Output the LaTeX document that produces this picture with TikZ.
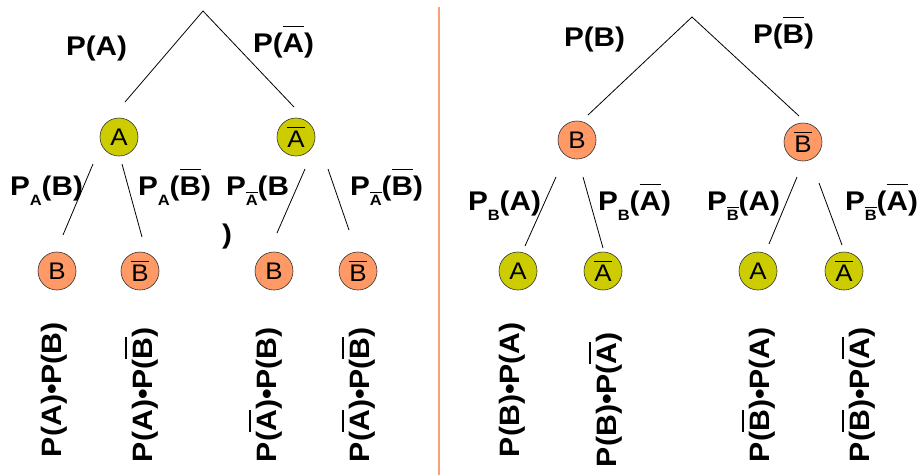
\documentclass[tikz,border=0pt]{standalone}
\usepackage{fontspec}
\setmainfont{Liberation Sans}
\newfontfamily\labfontfam[FakeStretch=1.1]{Liberation Sans Bold}
\newfontfamily\prodfontfam[FakeStretch=1.08]{Liberation Sans Bold}
\newfontfamily\nodefontfam[FakeStretch=1.08]{Liberation Sans}
\newcommand\labsize{\labfontfam\fontsize{27}{30}\selectfont}
\newcommand\prodsize{\prodfontfam\fontsize{28}{32}\selectfont}
\newcommand\nodesize{\nodefontfam\fontsize{24}{26}\selectfont}
\newcommand\ovl[2][0.22em]{\leavevmode\setbox0=\hbox{#2}\rlap{\raisebox{\dimexpr\ht0+#1\relax}{\rule{\wd0}{0.05em}}}\box0}
\newcommand\sbs[1]{\raisebox{-10pt}{\fontsize{15}{16}\selectfont #1}}
\definecolor{yel}{RGB}{204,204,0}
\definecolor{sal}{RGB}{255,153,102}
\definecolor{divcol}{RGB}{247,160,115}
\begin{document}
\begin{tikzpicture}[x=1pt,y=-1pt,
  every node/.style={inner sep=0pt,outer sep=0pt},
  ynode/.style={circle,draw=black!80,line width=0.6pt,fill=yel,minimum size=38pt,font=\nodesize},
  onode/.style={circle,draw=black!80,line width=0.6pt,fill=sal,minimum size=38pt,font=\nodesize},
  lbl/.style={anchor=base west,font=\labsize},
  prod/.style={anchor=base west,rotate=90,font=\prodsize},
  branch/.style={line width=0.8pt,black}]
\useasboundingbox (0,0) rectangle (921,475);

% divider
\coordinate (d1) at (439,7);
\coordinate (d2) at (439,475);
\draw[divcol,line width=2pt] (d1) -- (d2);

% ---------- left tree ----------
\coordinate (rL) at (203,11);
\coordinate (rL1) at (125,102);
\coordinate (rL2) at (294,107);
\draw[branch] (rL1) -- (rL) -- (rL2);

\node[ynode] (nA) at (119,137) {A};
\node[ynode] (nAb) at (296,137) {\ovl[0.12em]{A}};

\coordinate (a1s) at (93,164);  \coordinate (a1e) at (63,235);
\coordinate (a2s) at (122,164); \coordinate (a2e) at (142,237);
\coordinate (b1s) at (305,169); \coordinate (b1e) at (277,233);
\coordinate (b2s) at (328,169); \coordinate (b2e) at (349,230);
\draw[branch] (a1s) -- (a1e);
\draw[branch] (a2s) -- (a2e);
\draw[branch] (b1s) -- (b1e);
\draw[branch] (b2s) -- (b2e);

\node[onode] (l1) at (57,271) {B};
\node[onode] (l2) at (140,271) {\ovl[0.12em]{B}};
\node[onode] (l3) at (274,271) {B};
\node[onode] (l4) at (358,271) {\ovl[0.12em]{B}};

\node[lbl] (tPA) at (66,55) {P(A)};
\node[lbl] (tPAb) at (253,52) {P(\ovl{A})};
\node[lbl] (tPAB) at (10,195) {P\sbs{A}(B)};
\node[lbl] (tPABb) at (138,195) {P\sbs{A}(\ovl{B})};
\node[lbl] (tPAbB) at (226,195) {P\sbs{\ovl[0.15em]{A}}(B};
\node[lbl] (tPAbBc) at (222,243) {)};
\node[lbl] (tPAbBb) at (350,195) {P\sbs{\ovl[0.15em]{A}}(\ovl{B})};

\node[prod] (p1) at (61,457) {P(A)•P(B)};
\node[prod] (p2) at (152,462) {P(A)•P(\ovl{B})};
\node[prod] (p3) at (276,462) {P(\ovl{A})•P(B)};
\node[prod] (p4) at (369,462) {P(\ovl{A})•P(\ovl{B})};

% ---------- right tree ----------
\coordinate (rR) at (692,17);
\coordinate (rR1) at (588,115);
\coordinate (rR2) at (799,116);
\draw[branch] (rR1) -- (rR) -- (rR2);

\node[onode] (nB) at (577,140) {B};
\node[onode] (nBb) at (803,142) {\ovl[0.12em]{B}};

\coordinate (c1s) at (556,177); \coordinate (c1e) at (525,246);
\coordinate (c2s) at (583,177); \coordinate (c2e) at (603,248);
\coordinate (e1s) at (797,177); \coordinate (e1e) at (769,244);
\coordinate (e2s) at (819,183); \coordinate (e2e) at (842,245);
\draw[branch] (c1s) -- (c1e);
\draw[branch] (c2s) -- (c2e);
\draw[branch] (e1s) -- (e1e);
\draw[branch] (e2s) -- (e2e);

\node[ynode] (r1) at (518,271) {A};
\node[ynode] (r2) at (603,271) {\ovl[0.12em]{A}};
\node[ynode] (r3) at (758,271) {A};
\node[ynode] (r4) at (844,271) {\ovl[0.12em]{A}};

\node[lbl] (tPB) at (564,46) {P(B)};
\node[lbl] (tPBb) at (753,43) {P(\ovl{B})};
\node[lbl] (tPBA) at (468,210) {P\sbs{B}(A)};
\node[lbl] (tPBAb) at (598,210) {P\sbs{B}(\ovl{A})};
\node[lbl] (tPBbA) at (707,210) {P\sbs{\ovl[0.15em]{B}}(A)};
\node[lbl] (tPBbAb) at (845,210) {P\sbs{\ovl[0.15em]{B}}(\ovl{A})};

\node[prod] (q1) at (519,457) {P(B)•P(A)};
\node[prod] (q2) at (616,467) {P(B)•P(\ovl{A})};
\node[prod] (q3) at (769,462) {P(\ovl{B})•P(A)};
\node[prod] (q4) at (869,462) {P(\ovl{B})•P(\ovl{A})};
\end{tikzpicture}
\end{document}
